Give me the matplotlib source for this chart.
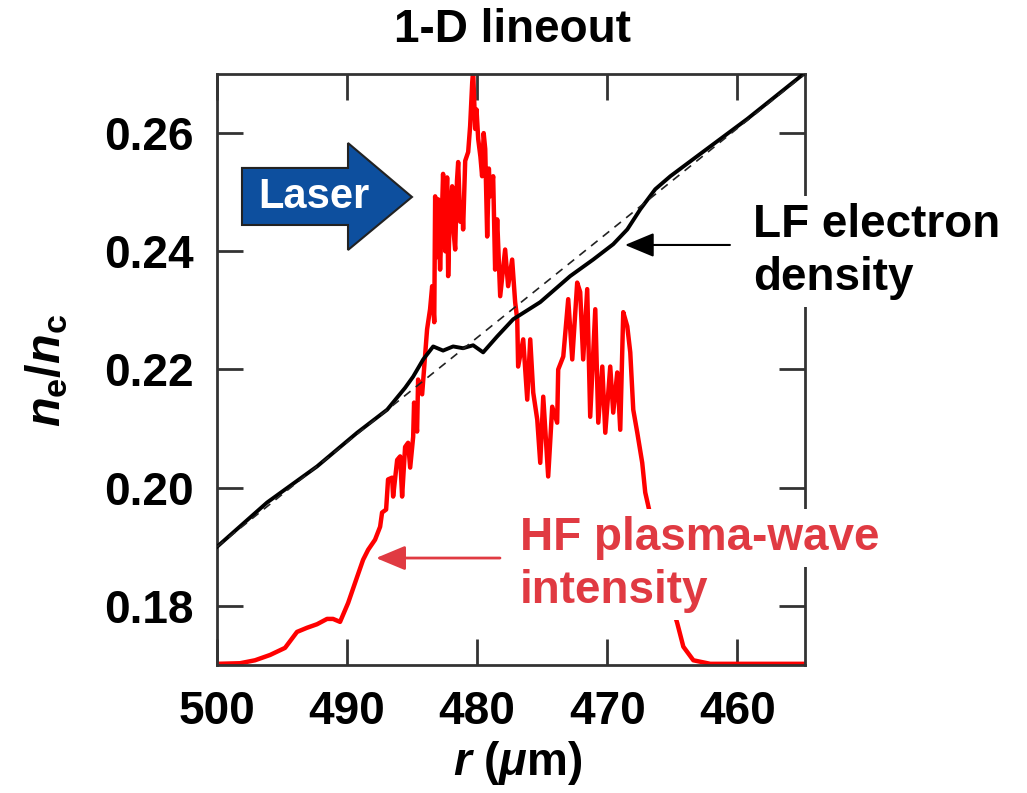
import matplotlib
matplotlib.use("Agg")
import matplotlib.pyplot as plt
from matplotlib.patches import Polygon

plt.rcParams['font.family'] = ['Liberation Sans', 'DejaVu Sans']
plt.rcParams['font.weight'] = 'bold'
plt.rcParams['mathtext.fontset'] = 'custom'
plt.rcParams['mathtext.it'] = 'Liberation Sans:italic:bold'
plt.rcParams['mathtext.rm'] = 'Liberation Sans:bold'
plt.rcParams['mathtext.bf'] = 'Liberation Sans:bold'

# HF plasma-wave intensity (red)
hf_r = [500.0, 498.23, 497.08, 495.92, 494.77, 493.85, 493.08, 492.31, 491.54, 491.08,
        490.54, 489.92, 489.23, 488.77, 488.38, 487.85, 487.46, 487.31, 487.0, 486.85,
        486.54, 486.46, 486.15, 485.92, 485.77, 485.54, 485.31, 485.15, 484.92, 484.85,
        484.62, 484.54, 484.23, 483.85, 483.62, 483.46, 483.3, 483.23, 483.1, 483.0,
        482.85, 482.7, 482.62, 482.45, 482.31, 482.23, 482.1, 481.92, 481.8, 481.69,
        481.55, 481.46, 481.3, 481.15, 481.08, 480.92, 480.69, 480.54,
        480.38, 480.31, 480.15, 480.05, 479.92, 479.75, 479.62, 479.5, 479.38, 479.23,
        479.1, 479.0, 478.77, 478.62,
        478.46, 478.23, 477.85, 477.62, 477.31, 477.08, 476.92, 476.85, 476.46, 476.15,
        475.92, 475.69, 475.38, 475.15, 474.92, 474.54, 474.23, 473.85, 473.77, 473.38,
        473.0, 472.69, 472.31, 472.08, 471.85, 471.54, 471.31, 470.92, 470.69, 470.38,
        470.15, 469.77, 469.54, 469.23, 469.0, 468.77, 468.46, 468.23, 468.0, 467.69,
        467.31, 467.08, 466.69, 465.92, 465.15, 464.62, 464.15, 463.38, 462.08, 454.8]
hf_v = [0.1702, 0.1703, 0.1708, 0.1717, 0.1729, 0.1756, 0.1763, 0.1769, 0.1778, 0.1778,
        0.1773, 0.1805, 0.1849, 0.1878, 0.1895, 0.1912, 0.1934, 0.1958, 0.1963, 0.2014,
        0.2017, 0.1985, 0.2047, 0.2053, 0.1985, 0.2069, 0.2076, 0.2034, 0.2086, 0.2144,
        0.2095, 0.2183, 0.2158, 0.2268, 0.2302, 0.2341, 0.2280, 0.2493, 0.2390, 0.2488,
        0.2369, 0.2470, 0.2531, 0.2400, 0.2525, 0.2358, 0.2470, 0.2510, 0.2430, 0.2403,
        0.2520, 0.2551, 0.2450, 0.2483, 0.2437, 0.2553, 0.2568, 0.2612,
        0.2686, 0.2705, 0.2607, 0.2640, 0.2590, 0.2560, 0.2527, 0.2600, 0.2573, 0.2425,
        0.2540, 0.2493, 0.2527, 0.2369,
        0.2454, 0.2324, 0.2403, 0.2341, 0.2386, 0.2314, 0.2285, 0.2205, 0.2251, 0.2149,
        0.2251, 0.2161, 0.2115, 0.2042, 0.2154, 0.2019, 0.2137, 0.2110, 0.2200, 0.2222,
        0.2319, 0.2217, 0.2347, 0.2331, 0.2217, 0.2336, 0.2120, 0.2302, 0.2110, 0.2205,
        0.2093, 0.2205, 0.2127, 0.2195, 0.2098, 0.2297, 0.2273, 0.2229, 0.2132, 0.2093,
        0.2042, 0.1992, 0.1954, 0.1878, 0.1810, 0.1771, 0.1731, 0.1708, 0.1702, 0.1702]

# LF electron density (black)
lf_r = [500.0, 496.15, 492.31, 489.23, 486.92, 485.54, 484.92, 484.15, 483.38, 482.62,
        481.85, 481.08, 480.31, 479.54, 478.46, 477.23, 475.15, 472.85, 471.08, 469.54,
        468.46, 467.46, 466.31, 465.15, 463.08, 459.23, 454.8]
lf_v = [0.1900, 0.1975, 0.2036, 0.2093, 0.2132, 0.2169, 0.2188, 0.2217, 0.2239, 0.2232,
        0.2239, 0.2236, 0.2241, 0.2229, 0.2256, 0.2285, 0.2314, 0.2358, 0.2386, 0.2412,
        0.2437, 0.2471, 0.2505, 0.2527, 0.2561, 0.2624, 0.2702]

# linear reference profile (dashed)
lin_r = [500.0, 454.8]
lin_v = [0.19, 0.27]

x_ticks = [500, 490, 480, 470, 460]
y_ticks = [0.18, 0.20, 0.22, 0.24, 0.26]

red = '#ff0000'
label_red = '#e03a42'

fig = plt.figure(figsize=(10.27, 7.93), dpi=100)
ax = fig.add_axes([0.2113, 0.1614, 0.5725, 0.7453])

ax.plot(hf_r, hf_v, color=red, lw=3.2, zorder=2)
ax.plot(lf_r, lf_v, color='black', lw=2.8, zorder=3)
ax.plot(lin_r, lin_v, color='#222222', lw=1.2, ls=(0, (5, 4)), zorder=4)

ax.set_xlim(500, 454.8)
ax.set_ylim(0.17, 0.27)
ax.set_xticks(x_ticks)
ax.set_yticks(y_ticks)
ax.set_xticklabels([str(t) for t in x_ticks])
ax.set_yticklabels(['%.2f' % t for t in y_ticks])
ax.tick_params(direction='in', length=19, width=2, top=True, right=True,
               labelsize=33, color='#333333')
ax.tick_params(axis='y', pad=17)
ax.tick_params(axis='x', pad=18)
for sp in ax.spines.values():
    sp.set_color('#333333')
    sp.set_linewidth(2)

fig.text(512 / 1027, 1 - 30 / 793, '1-D lineout', ha='center', va='center', fontsize=33)
fig.text(47 / 1027, 1 - 370 / 793, r'$n_{\mathrm{e}}/n_{\mathrm{c}}$', rotation=90,
         ha='center', va='center', fontsize=35)
fig.text(518 / 1027, 1 - 763 / 793, r'$r$ ($\mu$m)', ha='center', va='center', fontsize=33)

# Laser arrow
arrow = Polygon([(0.0425, 0.7445), (0.0425, 0.841), (0.2228, 0.841), (0.2228, 0.8832),
                 (0.3316, 0.7919), (0.2228, 0.7022), (0.2228, 0.7445)],
                closed=True, transform=ax.transAxes, facecolor='#0d4f9e',
                edgecolor='#222222', lw=1.5, zorder=5)
ax.add_patch(arrow)
ax.text(0.0697, 0.7733, 'Laser', transform=ax.transAxes, color='white', fontsize=30,
        ha='left', va='baseline', zorder=6)

# labels with white boxes
box = dict(facecolor='white', edgecolor='none', pad=5)
ax.text(0.9116, 0.7242, 'LF electron', transform=ax.transAxes, fontsize=33,
        ha='left', va='baseline', bbox=box, clip_on=False, zorder=7)
ax.text(0.9116, 0.6345, 'density', transform=ax.transAxes, fontsize=33,
        ha='left', va='baseline', bbox=box, clip_on=False, zorder=7)
ax.text(0.5153, 0.1946, 'HF plasma-wave', transform=ax.transAxes, fontsize=33,
        color=label_red, ha='left', va='baseline', bbox=box, clip_on=False, zorder=7)
ax.text(0.5153, 0.1049, 'intensity', transform=ax.transAxes, fontsize=33,
        color=label_red, ha='left', va='baseline', bbox=box, clip_on=False, zorder=7)

ax.annotate('', xy=(0.6939, 0.7107), xytext=(0.8724, 0.7107),
            xycoords='axes fraction', textcoords='axes fraction',
            arrowprops=dict(arrowstyle='-|>,head_length=1.2,head_width=0.5',
                            mutation_scale=15, color='black', lw=1.5,
                            shrinkA=0, shrinkB=0), zorder=8)
ax.annotate('', xy=(0.2704, 0.1810), xytext=(0.4813, 0.1810),
            xycoords='axes fraction', textcoords='axes fraction',
            arrowprops=dict(arrowstyle='-|>,head_length=1.2,head_width=0.5',
                            mutation_scale=15, color=label_red, lw=2,
                            shrinkA=0, shrinkB=0), zorder=8)

fig.savefig('out.png', dpi=100)
